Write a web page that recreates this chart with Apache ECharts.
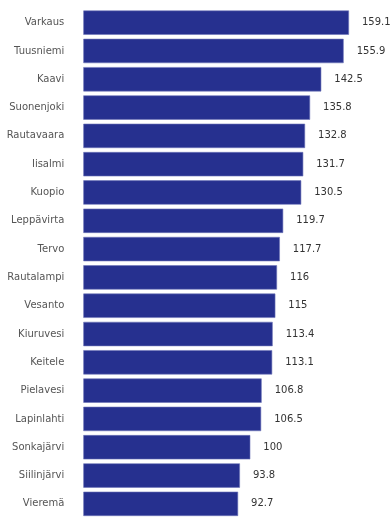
<!DOCTYPE html>
<html>
<head>
<meta charset="utf-8">
<script src="https://cdn.jsdelivr.net/npm/echarts@6/dist/echarts.min.js"></script>
<style>html,body{margin:0;padding:0;background:#fff}#c{width:392px;height:518px}</style>
</head>
<body>
<div id="c"></div>
<script>
var categories = ["Varkaus","Tuusniemi","Kaavi","Suonenjoki","Rautavaara","Iisalmi","Kuopio","Leppävirta","Tervo","Rautalampi","Vesanto","Kiuruvesi","Keitele","Pielavesi","Lapinlahti","Sonkajärvi","Siilinjärvi","Vieremä"];
var values = [159.1,155.9,142.5,135.8,132.8,131.7,130.5,119.7,117.7,116,115,113.4,113.1,106.8,106.5,100,93.8,92.7];

var chart = echarts.init(document.getElementById('c'), null, {renderer:'canvas'});
chart.setOption({
  animation:false,
  grid:{left:83.3, top:8.5, width:300.6, height:511},
  xAxis:{type:'value', min:0, max:180, show:false},
  yAxis:{type:'category', data:categories, inverse:true,
    axisLine:{show:false}, axisTick:{show:false},
    axisLabel:{color:'#555', fontFamily:'DejaVu Sans', fontSize:10, margin:19}},
  series:[{type:'bar', data:values, barCategoryGap:'14%',
    itemStyle:{color:'#26308f', borderColor:'#6f76b8', borderWidth:0.6},
    label:{show:true, position:'right', distance:13, color:'#333', fontFamily:'DejaVu Sans', fontSize:10}}]
});
</script>
</body>
</html>
